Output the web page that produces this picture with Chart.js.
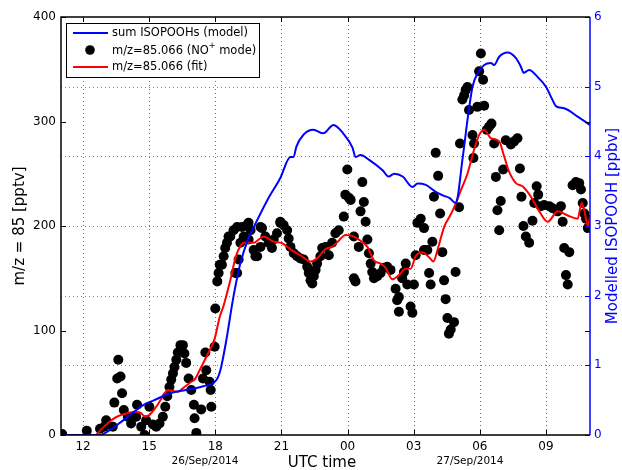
<!DOCTYPE html>
<html>
<head>
<meta charset="utf-8">
<script src="https://cdn.jsdelivr.net/npm/chart.js@4.4.1/dist/chart.umd.min.js"></script>
<style>
  html, body { margin: 0; padding: 0; background: #fff; }
  canvas { display: block; }
</style>
</head>
<body>
<canvas id="c" width="622" height="470"></canvas>
<script>
// hours counted from 26/Sep/2014 00:00 UTC
const xTicks = [12, 15, 18, 21, 24, 27, 30, 33];
const leftTicks = [0, 100, 200, 300, 400];
const rightTicks = [0, 1, 2, 3, 4, 5, 6];

// sum ISOPOOHs (model), ppbv
const modelHours = [11.0, 12.75, 12.95, 13.82, 14.73, 15.23, 15.95, 16.55, 17.45, 18.05, 18.23, 18.5, 18.82, 19.14, 19.5, 19.77, 20.36, 20.95, 21.41, 21.55, 21.68, 22.0, 22.45, 22.9, 23.36, 23.8, 24.23, 24.36, 24.59, 24.98, 25.59, 25.86, 26.12, 26.5, 26.95, 27.18, 27.55, 28.0, 28.32, 28.64, 28.9, 29.0, 29.21, 29.29, 29.44, 29.67, 29.9, 30.2, 30.5, 30.65, 30.88, 31.26, 31.64, 31.86, 31.99, 32.24, 32.62, 33.0, 33.3, 33.45, 33.83, 34.44, 35.0];
const modelPpbv = [0, 0, 0.02, 0.21, 0.43, 0.50, 0.60, 0.64, 0.70, 0.79, 0.93, 1.36, 1.98, 2.47, 2.82, 3.0, 3.37, 3.69, 3.99, 3.99, 4.14, 4.31, 4.38, 4.33, 4.45, 4.33, 4.12, 3.99, 4.02, 3.95, 3.80, 3.71, 3.75, 3.71, 3.56, 3.61, 3.59, 3.49, 3.44, 3.40, 3.33, 3.42, 3.95, 4.14, 4.52, 5.0, 5.19, 5.31, 5.34, 5.31, 5.43, 5.49, 5.41, 5.29, 5.2, 5.24, 5.14, 5.0, 4.81, 4.72, 4.69, 4.57, 4.45];

// m/z=85.066 (fit), pptv
const fitHours = [12.59, 12.95, 13.41, 14.03, 14.41, 14.64, 14.79, 15.0, 15.32, 15.62, 15.85, 16.3, 16.6, 16.91, 17.06, 17.36, 17.67, 17.97, 18.2, 18.38, 18.68, 18.91, 19.14, 19.29, 19.74, 20.2, 20.65, 21.03, 21.41, 21.86, 22.32, 22.62, 23.0, 23.3, 23.6, 23.91, 24.14, 24.44, 24.9, 25.2, 25.5, 25.73, 26.03, 26.33, 26.64, 26.86, 27.09, 27.4, 27.7, 27.9, 28.08, 28.38, 28.68, 28.9, 29.14, 29.44, 29.74, 29.97, 30.2, 30.5, 30.88, 31.1, 31.33, 31.64, 31.94, 32.32, 32.7, 33.08, 33.53, 33.99, 34.44, 34.62, 34.74, 34.9, 35.0];
const fitPptv = [0, 8, 16, 21, 22, 21, 17.5, 19, 27, 37, 43, 41.5, 46, 51, 53, 65, 78, 92, 113, 124, 148, 169, 181, 184, 184, 190, 185, 183.5, 177.7, 172, 166, 169, 178, 180, 186, 191.5, 191, 188, 180, 167, 164, 160, 149, 153, 159, 159, 171, 175, 170, 166, 177, 199, 211, 221, 234, 250, 273, 287, 292, 284, 281, 267, 252, 241, 238, 228, 214, 204, 214, 210, 207, 222, 215, 200, 209];

// m/z=85.066 (NO+ mode), pptv
const obsHours = [11.05, 12.17, 12.77, 12.97, 13.05, 13.35, 13.42, 13.55, 13.6, 13.7, 13.77, 13.85, 14.03, 14.18, 14.41, 14.45, 14.64, 14.79, 14.86, 15.01, 15.17, 15.32, 15.47, 15.62, 15.73, 15.82, 15.92, 16.0, 16.08, 16.15, 16.23, 16.3, 16.42, 16.53, 16.6, 16.68, 16.79, 16.91, 17.03, 17.06, 17.14, 17.36, 17.44, 17.55, 17.59, 17.74, 17.79, 17.82, 17.97, 18.0, 18.09, 18.15, 18.2, 18.3, 18.38, 18.45, 18.53, 18.6, 18.68, 18.83, 18.91, 18.99, 18.99, 19.06, 19.14, 19.21, 19.29, 19.44, 19.51, 19.51, 19.6, 19.74, 19.82, 19.9, 20.05, 20.05, 20.12, 20.27, 20.42, 20.57, 20.65, 20.8, 20.95, 20.95, 21.1, 21.26, 21.33, 21.41, 21.56, 21.71, 21.86, 22.01, 22.17, 22.24, 22.32, 22.4, 22.47, 22.55, 22.62, 22.77, 22.85, 23.0, 23.15, 23.3, 23.45, 23.6, 23.83, 23.9, 23.99, 24.06, 24.14, 24.29, 24.29, 24.36, 24.51, 24.59, 24.67, 24.74, 24.82, 24.9, 24.97, 25.05, 25.12, 25.2, 25.35, 25.5, 25.65, 25.8, 25.95, 26.18, 26.25, 26.33, 26.33, 26.48, 26.56, 26.64, 26.71, 26.86, 26.94, 27.01, 27.09, 27.17, 27.32, 27.47, 27.47, 27.62, 27.7, 27.77, 27.85, 27.92, 28.0, 28.11, 28.2, 28.3, 28.38, 28.45, 28.53, 28.6, 28.68, 28.83, 28.9, 29.06, 29.1, 29.21, 29.29, 29.36, 29.44, 29.51, 29.67, 29.71, 29.74, 29.89, 29.97, 30.05, 30.15, 30.2, 30.32, 30.42, 30.53, 30.65, 30.73, 30.8, 30.88, 30.95, 31.06, 31.18, 31.41, 31.56, 31.71, 31.82, 31.89, 31.98, 32.09, 32.24, 32.39, 32.47, 32.58, 32.65, 32.77, 32.92, 33.15, 33.3, 33.53, 33.68, 33.76, 33.83, 33.91, 33.99, 34.06, 34.21, 34.36, 34.51, 34.59, 34.67, 34.74, 34.82, 34.9, 35.0];
const obsPptv = [1, 4, 6, 8, 14, 8, 31, 54, 72, 56, 40, 24, 17.5, 11, 17.5, 29, 8, 0, 14, 27, 10, 8, 11, 17.5, 27, 37, 46, 53, 59, 65, 72, 79, 86, 86, 78, 69, 54, 43, 29, 16, 2, 24.5, 54, 79, 62, 51, 43, 27, 84.5, 121, 147, 155, 163, 163, 171, 179, 184, 190, 190, 196, 155, 155, 199, 168, 184, 199, 190, 201, 187, 203, 196, 177, 171, 171, 180, 199, 198, 190, 184, 179, 187, 193, 203, 204, 201, 196, 188, 180, 174, 171, 169, 168, 161, 155, 148, 145, 152, 158, 164, 171, 179, 180, 172, 184, 193, 196, 209, 230, 254, 227, 225, 190, 150, 147, 180, 214, 242, 223, 204, 187, 174, 164, 156, 150, 152, 155, 160, 161, 158, 140, 129, 132, 118, 150, 156, 164, 144, 123, 117, 144, 172, 203, 207, 198, 177, 177, 155, 144, 185, 228, 270, 248, 212, 175, 148, 130, 112, 97, 101, 108, 156, 218, 279, 321, 325, 330, 333, 311, 287, 265, 279, 314, 348, 365, 340, 315, 292, 295, 298, 279, 247, 215, 196, 224, 254, 282, 278, 281, 284, 255, 228, 200, 190, 184, 205, 222, 238, 230, 219, 220, 219, 217, 214, 219, 204, 179, 153, 144, 175, 239, 242, 241, 235, 222, 212, 207, 198, 206];

const BLUE = '#0000ff';
const RED = '#ff0000';
const FONT = '"DejaVu Sans", sans-serif';

const pairs = (xs, ys) => xs.map((x, i) => ({ x: x, y: ys[i] }));

// grid, frame, inward ticks, legend and titles drawn by hand (matplotlib look)
const decor = {
  id: 'decor',
  beforeDatasetsDraw(chart) {
    const { ctx, chartArea: a, scales } = chart;
    ctx.save();
    ctx.lineWidth = 1;
    ctx.setLineDash([1, 3]);
    ctx.strokeStyle = '#777';
    xTicks.forEach(t => {
      const px = Math.round(scales.x.getPixelForValue(t)) + 0.5;
      ctx.beginPath(); ctx.moveTo(px, a.top); ctx.lineTo(px, a.bottom); ctx.stroke();
    });
    ctx.strokeStyle = 'rgba(60,60,255,0.75)';
    rightTicks.slice(1, -1).forEach(t => {
      const py = Math.round(scales.y2.getPixelForValue(t)) + 0.5;
      ctx.beginPath(); ctx.moveTo(a.left, py); ctx.lineTo(a.right, py); ctx.stroke();
    });
    ctx.restore();
  },
  afterDatasetsDraw(chart) {
    const { ctx, chartArea: a, scales } = chart;
    ctx.save();
    ctx.setLineDash([]);
    const tl = 5;
    // inward ticks
    ctx.lineWidth = 1;
    ctx.strokeStyle = '#000';
    leftTicks.forEach(t => {
      const py = Math.round(scales.y.getPixelForValue(t)) + 0.5;
      ctx.beginPath(); ctx.moveTo(a.left, py); ctx.lineTo(a.left + tl, py); ctx.stroke();
      ctx.beginPath(); ctx.moveTo(a.right, py); ctx.lineTo(a.right - tl, py); ctx.stroke();
    });
    xTicks.forEach(t => {
      const px = Math.round(scales.x.getPixelForValue(t)) + 0.5;
      ctx.beginPath(); ctx.moveTo(px, a.bottom); ctx.lineTo(px, a.bottom - tl); ctx.stroke();
      ctx.beginPath(); ctx.moveTo(px, a.top); ctx.lineTo(px, a.top + tl); ctx.stroke();
    });
    ctx.strokeStyle = BLUE;
    rightTicks.forEach(t => {
      const py = Math.round(scales.y2.getPixelForValue(t)) + 0.5;
      ctx.beginPath(); ctx.moveTo(a.right, py); ctx.lineTo(a.right - tl, py); ctx.stroke();
    });
    // frame
    ctx.lineWidth = 1.5;
    ctx.strokeStyle = '#000';
    ctx.beginPath();
    ctx.moveTo(a.right, a.top); ctx.lineTo(a.left, a.top);
    ctx.lineTo(a.left, a.bottom); ctx.lineTo(a.right, a.bottom);
    ctx.stroke();
    ctx.strokeStyle = BLUE;
    ctx.beginPath(); ctx.moveTo(a.right, a.top); ctx.lineTo(a.right, a.bottom); ctx.stroke();

    // legend
    const lx = a.left + 5, ly = a.top + 6, lw = 193, lh = 54;
    ctx.fillStyle = '#fff';
    ctx.fillRect(lx, ly, lw, lh);
    ctx.lineWidth = 1;
    ctx.strokeStyle = '#000';
    ctx.strokeRect(lx + 0.5, ly + 0.5, lw, lh);
    ctx.font = '11.5px ' + FONT;
    ctx.textBaseline = 'middle';
    ctx.textAlign = 'left';
    const tx = lx + 46;
    const rows = [ly + 10, ly + 28, ly + 44];
    ctx.lineWidth = 2;
    ctx.strokeStyle = BLUE;
    ctx.beginPath(); ctx.moveTo(lx + 7, rows[0]); ctx.lineTo(lx + 42, rows[0]); ctx.stroke();
    ctx.strokeStyle = RED;
    ctx.beginPath(); ctx.moveTo(lx + 7, rows[2]); ctx.lineTo(lx + 42, rows[2]); ctx.stroke();
    ctx.fillStyle = '#000';
    ctx.beginPath(); ctx.arc(lx + 24, rows[1] - 1, 4.8, 0, Math.PI * 2); ctx.fill();
    ctx.fillText('sum ISOPOOHs (model)', tx, rows[0]);
    let s = 'm/z=85.066 (NO';
    ctx.fillText(s, tx, rows[1]);
    let w = ctx.measureText(s).width;
    ctx.font = '8px ' + FONT;
    ctx.fillText('+', tx + w, rows[1] - 5);
    w += ctx.measureText('+').width;
    ctx.font = '11.5px ' + FONT;
    ctx.fillText(' mode)', tx + w, rows[1]);
    ctx.fillText('m/z=85.066 (fit)', tx, rows[2]);

    // axis titles
    ctx.font = '15px ' + FONT;
    ctx.textAlign = 'center';
    ctx.fillText('UTC time', 322, 463);
    ctx.save();
    ctx.translate(20, 226);
    ctx.rotate(-Math.PI / 2);
    ctx.fillText('m/z = 85 [pptv]', 0, 0);
    ctx.restore();
    ctx.save();
    ctx.fillStyle = BLUE;
    ctx.translate(613, 226);
    ctx.rotate(-Math.PI / 2);
    ctx.fillText('Modelled ISOPOOH [ppbv]', 0, 0);
    ctx.restore();
    // date labels
    ctx.font = '10.5px ' + FONT;
    ctx.fillText('26/Sep/2014', 205, 461);
    ctx.fillText('27/Sep/2014', 470, 461);
    ctx.restore();
  }
};

new Chart(document.getElementById('c'), {
  type: 'line',
  data: {
    datasets: [
      {
        label: 'sum ISOPOOHs (model)',
        data: pairs(modelHours, modelPpbv),
        yAxisID: 'y2',
        borderColor: BLUE,
        borderWidth: 2,
        pointRadius: 0,
        cubicInterpolationMode: 'monotone',
        fill: false,
        order: 0
      },
      {
        label: 'm/z=85.066 (fit)',
        data: pairs(fitHours, fitPptv),
        yAxisID: 'y',
        borderColor: RED,
        borderWidth: 2,
        pointRadius: 0,
        cubicInterpolationMode: 'monotone',
        fill: false,
        order: 1
      },
      {
        label: 'm/z=85.066 (NO+ mode)',
        data: pairs(obsHours, obsPptv),
        yAxisID: 'y',
        showLine: false,
        pointRadius: 5,
        pointBackgroundColor: '#000',
        pointBorderColor: '#000',
        pointBorderWidth: 0,
        order: 2
      }
    ]
  },
  options: {
    responsive: false,
    animation: false,
    events: [],
    layout: { padding: { top: 17, left: 0, right: 0, bottom: 0 } },
    plugins: { legend: { display: false }, tooltip: { enabled: false } },
    scales: {
      x: {
        type: 'linear',
        min: 11,
        max: 35,
        afterBuildTicks: s => { s.ticks = xTicks.map(v => ({ value: v })); },
        afterFit: s => { s.height = 35; },
        grid: { display: false, drawTicks: false },
        border: { display: false },
        ticks: {
          padding: 5,
          maxRotation: 0,
          color: '#000',
          font: { family: FONT, size: 12 },
          callback: v => String(v % 24).padStart(2, '0')
        }
      },
      y: {
        position: 'left',
        min: 0,
        max: 400,
        afterBuildTicks: s => { s.ticks = leftTicks.map(v => ({ value: v })); },
        afterFit: s => { s.width = 61; },
        grid: { display: false, drawTicks: false },
        border: { display: false },
        ticks: { padding: 5, color: '#000', font: { family: FONT, size: 12 } }
      },
      y2: {
        position: 'right',
        min: 0,
        max: 6,
        afterBuildTicks: s => { s.ticks = rightTicks.map(v => ({ value: v })); },
        afterFit: s => { s.width = 32; },
        grid: { display: false, drawTicks: false },
        border: { display: false },
        ticks: { padding: 4, color: BLUE, font: { family: FONT, size: 12 } }
      }
    }
  },
  plugins: [decor]
});
</script>
</body>
</html>
